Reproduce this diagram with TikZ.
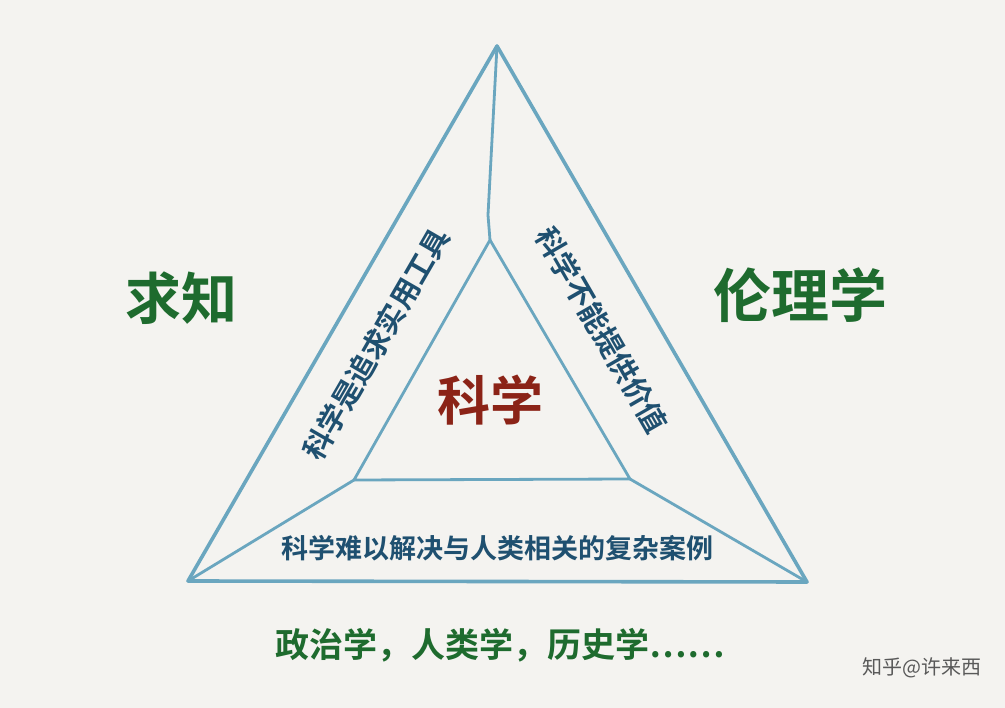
\documentclass[tikz,border=0pt]{standalone}
\usepackage{fontspec}
\newfontfamily\cjk{Noto Sans CJK SC}[BoldFont={* Bold}]
\usepackage{tikz}
\usetikzlibrary{positioning}
\definecolor{bgcol}{HTML}{F4F3F0}
\definecolor{linecol}{HTML}{6AA6BF}
\definecolor{bluetext}{HTML}{1F5070}
\definecolor{greentext}{HTML}{1E6B2E}
\definecolor{redtext}{HTML}{8B2317}
\tikzset{
  edge/.style={draw=linecol, line width=3.6pt, line join=round, line cap=round},
  thin edge/.style={draw=linecol, line width=2.8pt, line join=round, line cap=round},
  big/.style={font=\cjk\bfseries\fontsize{56}{60}\selectfont, text=greentext, inner sep=0pt},
  side/.style={font=\cjk\bfseries\fontsize{29}{32}\selectfont, text=bluetext, inner sep=0pt}
}
\begin{document}
\begin{tikzpicture}[x=1pt,y=-1pt]
\useasboundingbox [fill=bgcol] (0,0) rectangle (1005,708);
%
\coordinate (top) at (497,46);
\coordinate (bl) at (188,581);
\coordinate (br) at (807,582);
\coordinate (itop) at (490,240);
\coordinate (ibl) at (354,480);
\coordinate (ibr) at (630,479);
%
\draw [edge] (top) -- (bl) -- (br) -- cycle;
\draw [thin edge] (itop) -- (ibl) -- (ibr) -- cycle;
\draw [thin edge] (top) -- (488,215) -- (itop);
\draw [thin edge] (bl) -- (ibl);
\draw [thin edge] (br) -- (ibr);
%
\node [big] (seek) at (181,298) {求知};
\node [big, font=\cjk\bfseries\fontsize{58}{62}\selectfont] (ethics) at (800,295) {伦理学};
\node [big, text=redtext, font=\cjk\bfseries\fontsize{53}{58}\selectfont] (science) at (490,400) {科学};
%
\node [side, rotate=60] (tool) at (376,344) {科学是追求实用工具};
\node [side, rotate=-60] (value) at (602,330) {科学不能提供价值};
\node [side, font=\cjk\bfseries\fontsize{27}{30}\selectfont] (cases) at (497,548) {科学难以解决与人类相关的复杂案例};
%
\node [big, font=\cjk\bfseries\fontsize{34}{38}\selectfont] (fields) at (500,645) {政治学，人类学，历史学……};
\node [inner sep=0pt, font=\cjk\fontsize{20}{22}\selectfont, text=black!65] (mark) at (922,668) {知乎@许来西};
\end{tikzpicture}
\end{document}
